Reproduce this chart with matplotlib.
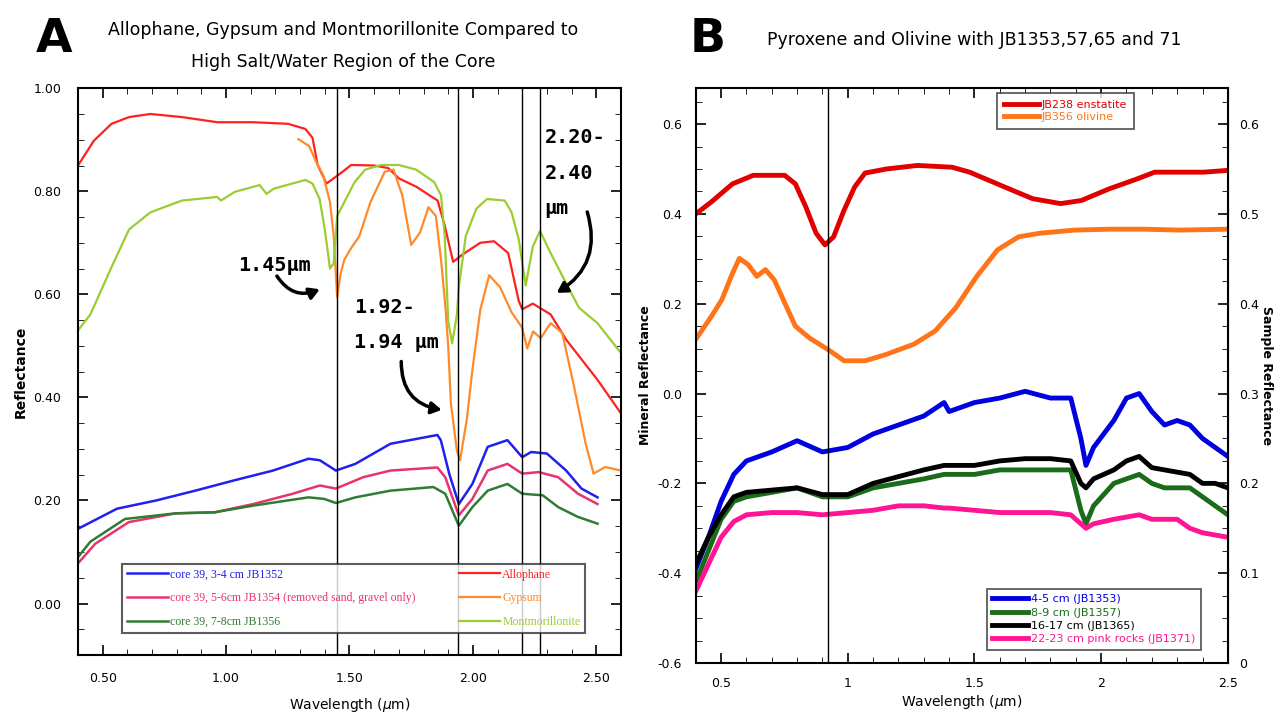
import numpy as np
import matplotlib
matplotlib.use('Agg')
from matplotlib import pyplot as plt
from matplotlib.ticker import MultipleLocator, FormatStrFormatter

##### Panel A data
blue_x = [0.4, 0.558, 0.717, 0.875, 1.033, 1.19, 1.334, 1.38, 1.445, 1.524, 1.666, 1.856, 1.87, 1.904, 1.943, 1.998,
          2.06, 2.14, 2.2, 2.236, 2.30, 2.378, 2.44, 2.505]
blue_y = [0.145, 0.184, 0.20, 0.219, 0.239, 0.258, 0.281, 0.278, 0.258, 0.271, 0.31, 0.327, 0.317, 0.252, 0.193, 0.232,
          0.304, 0.317, 0.284, 0.294, 0.291, 0.258, 0.223, 0.206]

pink_x = [0.4, 0.47, 0.606, 0.796, 0.954, 1.11, 1.27, 1.38, 1.445, 1.555, 1.666, 1.856, 1.888, 1.943, 1.998, 2.06,
          2.14, 2.2, 2.267, 2.346, 2.426, 2.505]
pink_y = [0.078, 0.116, 0.158, 0.175, 0.177, 0.193, 0.213, 0.229, 0.223, 0.245, 0.258, 0.264, 0.245, 0.171, 0.203, 0.258,
          0.271, 0.252, 0.255, 0.245, 0.213, 0.193]

green_x = [0.4, 0.45, 0.59, 0.796, 0.954, 1.11, 1.334, 1.397, 1.445, 1.524, 1.666, 1.84, 1.888, 1.943, 1.998, 2.06,
           2.14, 2.2, 2.283, 2.346, 2.426, 2.505]
green_y = [0.09, 0.12, 0.164, 0.175, 0.177, 0.19, 0.206, 0.203, 0.195, 0.206, 0.219, 0.226, 0.213, 0.151, 0.187, 0.219,
           0.232, 0.213, 0.21, 0.187, 0.168, 0.155]

allo_x = [0.4, 0.464, 0.536, 0.607, 0.693, 0.821, 0.964, 1.107, 1.25, 1.321, 1.35, 1.371, 1.407, 1.464, 1.507, 1.6,
          1.657, 1.7, 1.77, 1.857, 1.886, 1.92, 1.957, 2.03, 2.086, 2.143, 2.186, 2.2, 2.243, 2.315, 2.378, 2.505, 2.6]
allo_y = [0.85, 0.898, 0.931, 0.944, 0.95, 0.944, 0.934, 0.934, 0.931, 0.921, 0.904, 0.851, 0.815, 0.835, 0.851, 0.85,
          0.845, 0.825, 0.809, 0.782, 0.733, 0.663, 0.677, 0.70, 0.703, 0.68, 0.587, 0.571, 0.582, 0.561, 0.512, 0.434, 0.369]

gyp_x = [1.293, 1.336, 1.364, 1.393, 1.421, 1.436, 1.45, 1.464, 1.479, 1.507, 1.54, 1.585, 1.643, 1.678, 1.714, 1.75,
         1.786, 1.82, 1.85, 1.871, 1.888, 1.90, 1.911, 1.935, 1.948, 1.975, 1.998, 2.03, 2.066, 2.11, 2.157, 2.2, 2.22,
         2.244, 2.275, 2.315, 2.362, 2.41, 2.457, 2.489, 2.536, 2.6]
gyp_y = [0.901, 0.888, 0.858, 0.832, 0.779, 0.713, 0.594, 0.64, 0.667, 0.69, 0.713, 0.779, 0.838, 0.842, 0.792, 0.696,
         0.72, 0.769, 0.752, 0.667, 0.58, 0.50, 0.388, 0.297, 0.278, 0.356, 0.453, 0.57, 0.637, 0.614, 0.565, 0.535, 0.495,
         0.528, 0.515, 0.544, 0.525, 0.421, 0.31, 0.252, 0.265, 0.258]

mont_x = [0.4, 0.45, 0.536, 0.607, 0.693, 0.821, 0.964, 0.979, 1.036, 1.136, 1.164, 1.193, 1.321, 1.35, 1.379, 1.4,
          1.421, 1.436, 1.45, 1.479, 1.521, 1.564, 1.628, 1.7, 1.77, 1.843, 1.871, 1.886, 1.9, 1.916, 1.935, 1.943,
          1.971, 2.014, 2.057, 2.129, 2.157, 2.186, 2.214, 2.243, 2.272, 2.315, 2.372, 2.43, 2.505, 2.6]
mont_y = [0.53, 0.561, 0.653, 0.726, 0.759, 0.782, 0.789, 0.782, 0.799, 0.812, 0.795, 0.805, 0.822, 0.815, 0.785, 0.726,
          0.65, 0.66, 0.752, 0.779, 0.818, 0.842, 0.851, 0.851, 0.842, 0.818, 0.792, 0.713, 0.548, 0.505, 0.56, 0.614,
          0.713, 0.766, 0.785, 0.782, 0.759, 0.706, 0.617, 0.693, 0.723, 0.68, 0.627, 0.574, 0.544, 0.486]

lines_a = [1.45, 1.94, 2.20, 2.27]

##### Panel B data
ens_x = [0.4, 0.462, 0.545, 0.627, 0.751, 0.793, 0.834, 0.875, 0.91, 0.944, 0.985, 1.027, 1.068, 1.151, 1.275, 1.412,
         1.481, 1.619, 1.729, 1.84, 1.922, 2.032, 2.142, 2.211, 2.308, 2.404, 2.5]
ens_y = [0.40, 0.427, 0.467, 0.486, 0.486, 0.467, 0.416, 0.357, 0.331, 0.349, 0.408, 0.46, 0.491, 0.50, 0.508, 0.504,
         0.493, 0.46, 0.434, 0.423, 0.43, 0.456, 0.478, 0.493, 0.493, 0.493, 0.497]

oli_x = [0.4, 0.462, 0.503, 0.545, 0.572, 0.607, 0.641, 0.675, 0.71, 0.751, 0.793, 0.848, 0.93, 0.985, 1.068, 1.151,
         1.261, 1.344, 1.426, 1.509, 1.591, 1.674, 1.757, 1.894, 2.032, 2.17, 2.308, 2.5]
oli_y = [0.121, 0.172, 0.209, 0.268, 0.301, 0.287, 0.261, 0.276, 0.253, 0.202, 0.15, 0.124, 0.095, 0.073, 0.073, 0.087,
         0.11, 0.139, 0.191, 0.261, 0.32, 0.349, 0.357, 0.364, 0.366, 0.366, 0.364, 0.366]

samp_x = [0.4, 0.45, 0.5, 0.55, 0.6, 0.7, 0.8, 0.9, 1.0, 1.1, 1.2, 1.3, 1.38, 1.4, 1.5, 1.6, 1.7, 1.8, 1.88, 1.92,
          1.94, 1.97, 2.05, 2.1, 2.15, 2.2, 2.25, 2.3, 2.35, 2.4, 2.45, 2.5]
s1353 = [-0.39, -0.32, -0.24, -0.18, -0.15, -0.13, -0.105, -0.13, -0.12, -0.09, -0.07, -0.05, -0.02, -0.04, -0.02, -0.01,
         0.005, -0.01, -0.01, -0.10, -0.16, -0.12, -0.06, -0.01, 0.0, -0.04, -0.07, -0.06, -0.07, -0.10, -0.12, -0.14]
s1357 = [-0.42, -0.35, -0.28, -0.24, -0.23, -0.22, -0.21, -0.23, -0.23, -0.21, -0.20, -0.19, -0.18, -0.18, -0.18, -0.17,
         -0.17, -0.17, -0.17, -0.26, -0.29, -0.25, -0.20, -0.19, -0.18, -0.20, -0.21, -0.21, -0.21, -0.23, -0.25, -0.27]
s1365 = [-0.38, -0.32, -0.27, -0.23, -0.22, -0.215, -0.21, -0.225, -0.225, -0.20, -0.185, -0.17, -0.16, -0.16, -0.16, -0.15,
         -0.145, -0.145, -0.15, -0.20, -0.21, -0.19, -0.17, -0.15, -0.14, -0.165, -0.17, -0.175, -0.18, -0.20, -0.20, -0.21]
s1371 = [-0.44, -0.38, -0.32, -0.285, -0.27, -0.265, -0.265, -0.27, -0.265, -0.26, -0.25, -0.25, -0.255, -0.255, -0.26, -0.265,
         -0.265, -0.265, -0.27, -0.29, -0.30, -0.29, -0.28, -0.275, -0.27, -0.28, -0.28, -0.28, -0.30, -0.31, -0.315, -0.32]

line_b = 0.92

title_font = 'DejaVu Sans'
mono = 'DejaVu Sans Mono'

fig = plt.figure(figsize=(12.79, 7.23), dpi=100)

##### Panel A
ax = fig.add_axes([0.061, 0.094, 0.4245, 0.784])
ax.plot(blue_x, blue_y, color='#2020f0', lw=1.8, label='core 39, 3-4 cm JB1352')
ax.plot(pink_x, pink_y, color='#e8336e', lw=1.8, label='core 39, 5-6cm JB1354 (removed sand, gravel only)')
ax.plot(green_x, green_y, color='#2e7d32', lw=1.8, label='core 39, 7-8cm JB1356')
ax.plot(allo_x, allo_y, color='#ff2020', lw=1.6, label='Allophane')
ax.plot(gyp_x, gyp_y, color='#ff8a2a', lw=1.6, label='Gypsum')
ax.plot(mont_x, mont_y, color='#9acd32', lw=1.6, label='Montmorillonite')
for v in lines_a:
    ax.axvline(v, color='black', lw=1.0)
ax.set_xlim(0.4, 2.6)
ax.set_ylim(-0.1, 1.0)
ax.xaxis.set_minor_locator(MultipleLocator(0.1))
ax.yaxis.set_minor_locator(MultipleLocator(0.05))
ax.xaxis.set_major_formatter(FormatStrFormatter('%.2f'))
ax.yaxis.set_major_formatter(FormatStrFormatter('%.2f'))
ax.set_xticks([0.5, 1.0, 1.5, 2.0, 2.5])
ax.set_yticks([0.0, 0.2, 0.4, 0.6, 0.8, 1.0])
ax.tick_params(which='both', direction='in', top=True, right=True, labelsize=9, pad=12)
ax.tick_params(which='major', length=7, width=1.2)
ax.tick_params(which='minor', length=4)
for s in ax.spines.values():
    s.set_linewidth(1.5)
ax.set_xlabel('Wavelength ($\\mu$m)', fontsize=10, labelpad=8)
ax.set_ylabel('Reflectance', fontsize=10, fontweight='bold')

leg = ax.legend(loc='lower left', bbox_to_anchor=(0.081, 0.039, 0.853, 0.169), mode='expand', ncol=2,
                labelcolor='linecolor', frameon=True, fancybox=False, edgecolor='#333333',
                handlelength=3.5, handletextpad=0.2, borderaxespad=0, labelspacing=1.0,
                prop={'family': 'Liberation Serif', 'size': 8.5})
leg.get_frame().set_linewidth(1.5)

ann = dict(fontsize=14.5, fontweight='bold', family=mono)
arrow = dict(arrowstyle='-|>,head_length=0.6,head_width=0.35', lw=2.5, color='black')
ax.text(1.05, 0.645, '1.45\u00b5m', **ann)
ax.annotate('', xy=(1.39, 0.612), xytext=(1.2, 0.64),
            arrowprops=dict(arrow, connectionstyle='arc3,rad=0.45'))
ax.text(1.52, 0.495, '1.92-\n1.94 \u00b5m', linespacing=2.1, **ann)
ax.annotate('', xy=(1.885, 0.375), xytext=(1.71, 0.475),
            arrowprops=dict(arrow, connectionstyle='arc3,rad=0.45'))
ax.text(2.29, 0.755, '2.20-\n2.40\n\u00b5m', linespacing=2.1, **ann)
ax.annotate('', xy=(2.33, 0.60), xytext=(2.46, 0.765),
            arrowprops=dict(arrow, connectionstyle='arc3,rad=-0.4'))

fig.text(0.042, 0.945, 'A', fontsize=34, fontweight='bold', ha='center', va='center')
fig.text(0.268, 0.958, 'Allophane, Gypsum and Montmorillonite Compared to', fontsize=12.5,
         ha='center', va='center', family=title_font)
fig.text(0.268, 0.914, 'High Salt/Water Region of the Core', fontsize=12.5,
         ha='center', va='center', family=title_font)

##### Panel B
bx = fig.add_axes([0.544, 0.083, 0.416, 0.795])
bx.plot(ens_x, ens_y, color='#e00000', lw=3.5, label='JB238 enstatite')
bx.plot(oli_x, oli_y, color='#ff7418', lw=3.5, label='JB356 olivine')
h1, = bx.plot(samp_x, s1353, color='#0000e0', lw=3.5, label='4-5 cm (JB1353)')
h2, = bx.plot(samp_x, s1357, color='#1a6b1a', lw=3.5, label='8-9 cm (JB1357)')
h3, = bx.plot(samp_x, s1365, color='black', lw=3.5, label='16-17 cm (JB1365)')
h4, = bx.plot(samp_x, s1371, color='#ff1493', lw=3.5, label='22-23 cm pink rocks (JB1371)')
bx.axvline(line_b, color='black', lw=1.0)
bx.set_xlim(0.4, 2.5)
bx.set_ylim(-0.6, 0.68)
bx.set_xticks([0.5, 1, 1.5, 2, 2.5])
bx.set_xticklabels(['0.5', '1', '1.5', '2', '2.5'])
bx.xaxis.set_minor_locator(MultipleLocator(0.1))
bx.set_yticks([-0.6, -0.4, -0.2, 0.0, 0.2, 0.4, 0.6])
bx.set_yticklabels(['-0.6', '-0.4', '-0.2', '0.0', '0.2', '0.4', '0.6'])
bx.yaxis.set_minor_locator(MultipleLocator(0.05))
bx.tick_params(which='both', direction='in', top=True, right=True, labelsize=9, pad=10)
bx.tick_params(which='major', length=7, width=1.2)
bx.tick_params(which='minor', length=4)
for s in bx.spines.values():
    s.set_linewidth(1.5)
bx.set_xlabel('Wavelength ($\\mu$m)', fontsize=10, labelpad=2)
bx.set_ylabel('Mineral Reflectance', fontsize=9, fontweight='bold', labelpad=4)

sec = bx.secondary_yaxis('right', functions=(lambda y: (y + 0.6) / 2, lambda s: 2 * s - 0.6))
sec.set_yticks([0, 0.1, 0.2, 0.3, 0.4, 0.5, 0.6])
sec.set_yticklabels(['0', '0.1', '0.2', '0.3', '0.4', '0.5', '0.6'])
sec.tick_params(direction='in', length=0, labelsize=9, pad=8)
sec.set_ylabel('Sample Reflectance', fontsize=9, fontweight='bold', rotation=-90, labelpad=10)

legb1 = bx.legend(handles=bx.lines[:2], loc='upper left', bbox_to_anchor=(0.566, 0.991), fontsize=8,
                  labelcolor='linecolor', fancybox=False, edgecolor='#333333', handlelength=3.2,
                  handletextpad=0.25, borderaxespad=0, labelspacing=0.2, borderpad=0.6)
legb1.get_frame().set_linewidth(1.3)
bx.add_artist(legb1)
legb2 = bx.legend(handles=[h1, h2, h3, h4], loc='lower left', bbox_to_anchor=(0.547, 0.023), fontsize=8,
                  labelcolor='linecolor', fancybox=False, edgecolor='#333333', handlelength=3.2,
                  handletextpad=0.25, borderaxespad=0, labelspacing=0.3, borderpad=0.5)
legb2.get_frame().set_linewidth(1.3)

fig.text(0.553, 0.945, 'B', fontsize=34, fontweight='bold', ha='center', va='center')
fig.text(0.762, 0.945, 'Pyroxene and Olivine with JB1353,57,65 and 71', fontsize=12.5,
         ha='center', va='center', family=title_font)

fig.savefig('out.png', dpi=100)
